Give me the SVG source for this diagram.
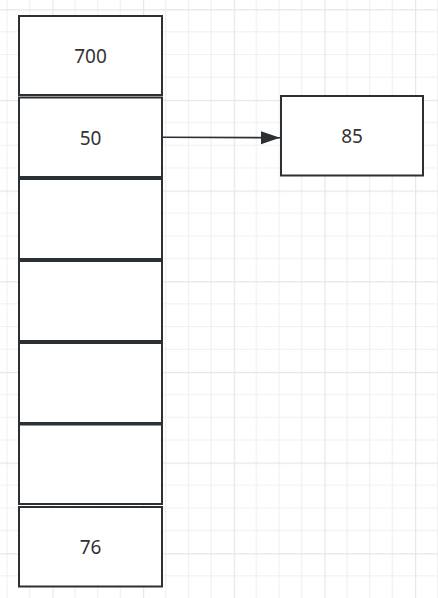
<svg xmlns="http://www.w3.org/2000/svg" width="438" height="598" viewBox="0 0 438 598">
  <defs>
    <pattern id="grid" patternUnits="userSpaceOnUse" x="52.4" y="9.2" width="90.67" height="90.67">
      <path d="M22.67 0V90.67M45.33 0V90.67M68 0V90.67M0 22.67H90.67M0 45.33H90.67M0 68H90.67" stroke="#f0f0f0" stroke-width="1.2" fill="none"/>
      <path d="M0.5 0V90.67M0 0.5H90.67" stroke="#e6e6e6" stroke-width="1.4" fill="none"/>
    </pattern>
    <marker id="arrow" markerUnits="userSpaceOnUse" markerWidth="20" markerHeight="14" refX="19" refY="7" orient="auto">
      <path d="M0 0.5L19 7L0 13.5Z" fill="#2b3035"/>
    </marker>
  </defs>
  <style>
    .box { fill: #ffffff; stroke: #2b3035; stroke-width: 2; }
    .lbl { font-family: "Noto Sans", "Liberation Sans", sans-serif; font-size: 19px; fill: #333333; text-anchor: middle; }
    .edge { stroke: #2b3035; stroke-width: 1.6; fill: none; }
  </style>
  <rect width="438" height="598" fill="#ffffff"/>
  <rect width="438" height="598" fill="url(#grid)"/>
  <g id="cell0"><rect class="box" x="19" y="16" width="143" height="79"/><text class="lbl" x="90.5" y="63">700</text></g>
  <g id="cell1"><rect class="box" x="19" y="97.5" width="143" height="79.5"/><text class="lbl" x="90.5" y="144.5">50</text></g>
  <g id="cell2"><rect class="box" x="19" y="179" width="143" height="80"/></g>
  <g id="cell3"><rect class="box" x="19" y="261" width="143" height="80"/></g>
  <g id="cell4"><rect class="box" x="19" y="343" width="143" height="80"/></g>
  <g id="cell5"><rect class="box" x="19" y="424.5" width="143" height="79.5"/></g>
  <g id="cell6"><rect class="box" x="19" y="507" width="143" height="79.5"/><text class="lbl" x="90.5" y="554">76</text></g>
  <g id="node85"><rect class="box" x="281" y="96" width="142" height="79.5"/><text class="lbl" x="352" y="143">85</text></g>
  <g id="connectors">
    <path class="edge" d="M163 137.3L280 137.7" marker-end="url(#arrow)"/>
  </g>
</svg>
